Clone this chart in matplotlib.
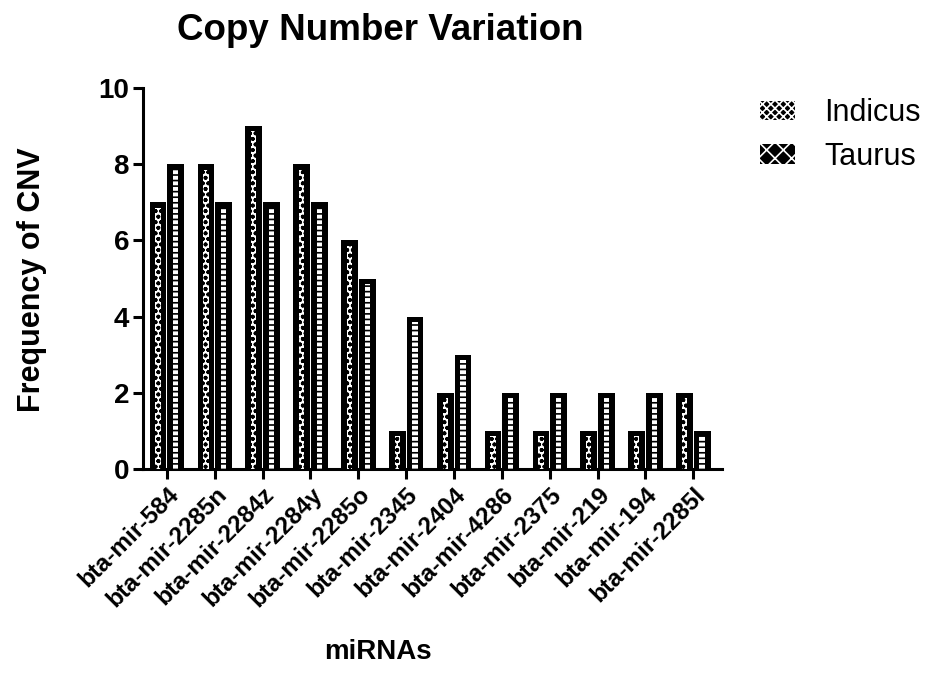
import numpy as np
import matplotlib
matplotlib.use("Agg")
import matplotlib.pyplot as plt
from matplotlib.patches import Patch

plt.rcParams['font.family'] = ['Liberation Sans', 'DejaVu Sans']
plt.rcParams['hatch.linewidth'] = 1.2

mirnas = ["bta-mir-584", "bta-mir-2285n", "bta-mir-2284z", "bta-mir-2284y",
          "bta-mir-2285o", "bta-mir-2345", "bta-mir-2404", "bta-mir-4286",
          "bta-mir-2375", "bta-mir-219", "bta-mir-194", "bta-mir-2285l"]
indicus = [7, 8, 9, 8, 6, 1, 2, 1, 1, 1, 1, 2]
taurus = [8, 7, 7, 7, 5, 4, 3, 2, 2, 2, 2, 1]
series_names = ["Indicus", "Taurus"]
yticks = [0, 2, 4, 6, 8, 10]

fig = plt.figure(figsize=(9.36, 6.84), dpi=100)
ax = fig.add_axes([143 / 936, 1 - 469 / 684, (722 - 143) / 936, (469 - 88) / 684])

x = np.arange(len(mirnas))
w = 0.35
inner_w = w * 0.32
top_gap = 0.14

def draw_series(xpos, vals, hatch):
    vals = np.array(vals, dtype=float)
    ax.bar(xpos, vals, width=w, color='black', edgecolor='black', linewidth=0, zorder=2)
    ax.bar(xpos, vals - top_gap, width=inner_w, color='white', edgecolor='black',
           linewidth=0, hatch=hatch, zorder=3)

draw_series(x - w / 2 - 0.01, indicus, 'ooo')
draw_series(x + w / 2 + 0.01, taurus, '---')

ax.set_xlim(-0.5, 11.6)
ax.set_ylim(0, 10)
ax.set_yticks(yticks)
ax.set_yticklabels([str(t) for t in yticks], fontsize=20, fontweight='bold')
ax.set_xticks(x)
ax.set_xticklabels(mirnas, rotation=45, ha='right', rotation_mode='anchor',
                   fontsize=17.5, fontweight='bold')
ax.tick_params(axis='both', width=2.2, length=7, direction='out', pad=3)
for s in ['top', 'right']:
    ax.spines[s].set_visible(False)
for s in ['left', 'bottom']:
    ax.spines[s].set_linewidth(2.2)

fig.text(380 / 936, 1 - 30 / 684, "Copy Number Variation", ha='center', va='center',
         fontsize=26.5, fontweight='bold')
fig.text(32 / 936, 1 - 280 / 684, "Frequency of CNV", ha='center', va='center',
         rotation=90, fontsize=22, fontweight='bold')
fig.text(378 / 936, 1 - 652 / 684, "miRNAs", ha='center', va='center',
         fontsize=20, fontweight='bold')

handles = [Patch(facecolor='black', edgecolor='white', linewidth=0, hatch='xxxx'),
           Patch(facecolor='black', edgecolor='white', linewidth=0, hatch='xx')]
fig.legend(handles, series_names, loc='upper left', bbox_to_anchor=(760 / 936, 1 - 98 / 684),
           frameon=False, fontsize=22, handlelength=1.15, handleheight=0.6,
           labelspacing=0.45, handletextpad=0.95, borderpad=0, borderaxespad=0)

fig.savefig("out.png", dpi=100)
